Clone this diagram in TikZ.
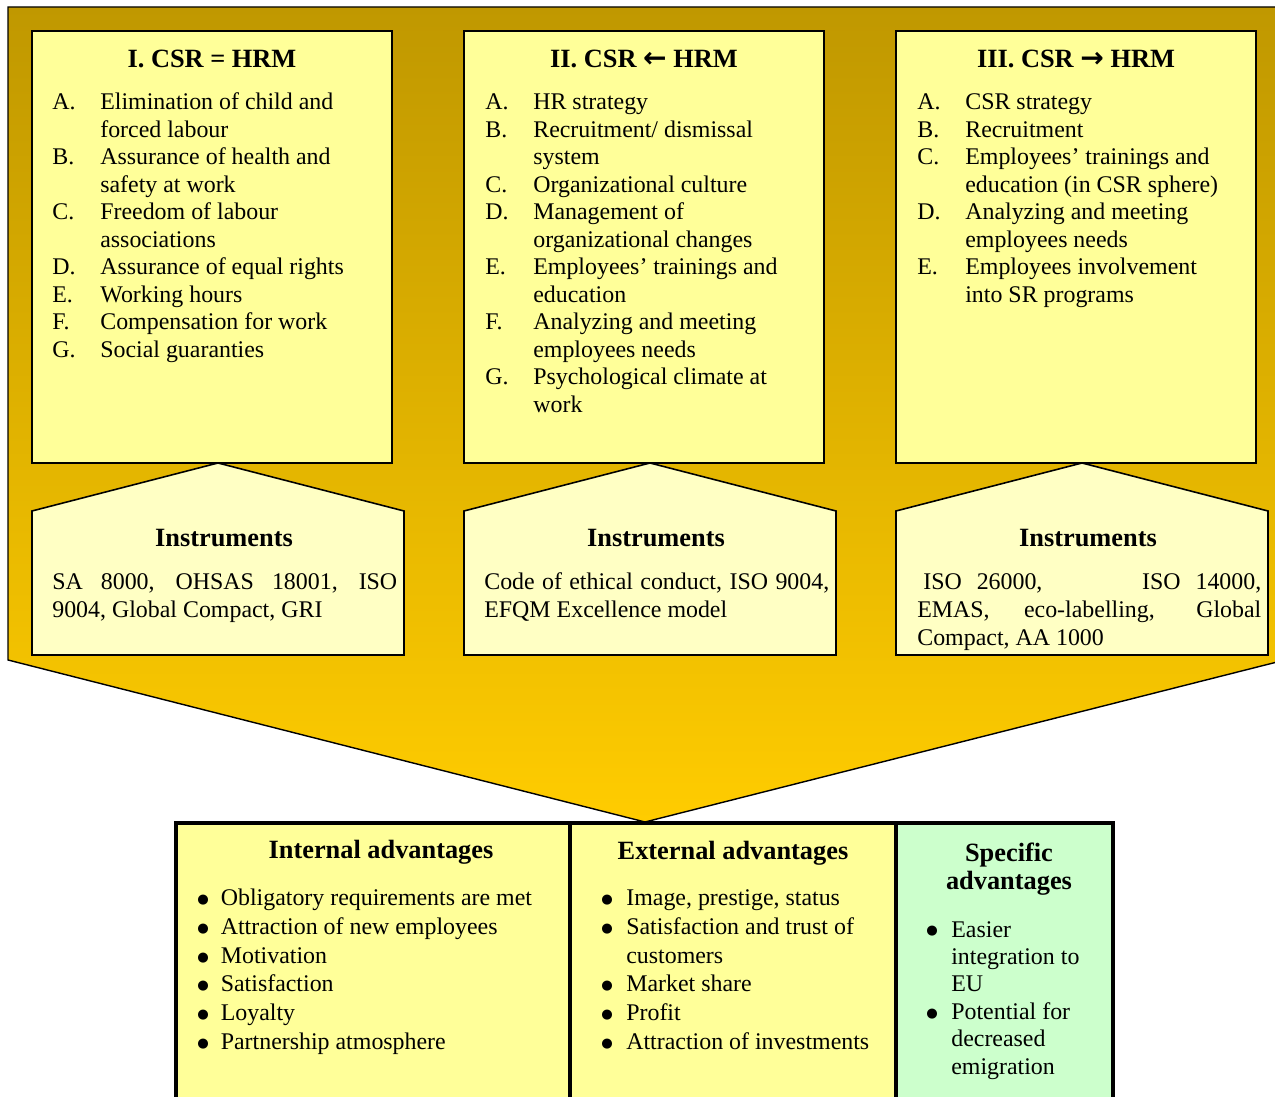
\documentclass[tikz,border=0pt]{standalone}
\usepackage{fontspec}
\setmainfont{Liberation Serif}
\newfontfamily\arrowfont{DejaVu Sans}
\usetikzlibrary{calc}
\definecolor{goldtop}{HTML}{C09800}
\definecolor{goldbottom}{HTML}{FFCC00}
\definecolor{paleyellow}{HTML}{FFFF99}
\definecolor{creamyellow}{HTML}{FFFFC4}
\definecolor{palegreen}{HTML}{CCFFCC}
\newcommand{\blob}{\raisebox{1.2pt}{\arrowfont\fontsize{7.5}{7.5}\selectfont ●}}

\begin{document}
\begin{tikzpicture}[x=0.02cm, y=-0.02cm,
  panel/.style={draw=black, line width=0.9pt, fill=paleyellow},
  instr/.style={draw=black, line width=0.9pt, fill=creamyellow},
  advbox/.style={draw=black, line width=1.9pt, fill=paleyellow},
  head/.style={anchor=base, inner sep=0pt, font=\fontsize{15}{17}\selectfont\bfseries},
  toplist/.style={anchor=base west, inner sep=0pt, font=\fontsize{13.6}{15.65}\selectfont},
  instext/.style={anchor=base west, inner sep=0pt, font=\fontsize{13.6}{15.9}\selectfont},
  advlist/.style={anchor=base west, inner sep=0pt, font=\fontsize{13.6}{16.3}\selectfont}
]
  \useasboundingbox (0,0) rectangle (1275,1097);
  \clip (0,0) rectangle (1275,1097);

  % Big arrow
  \draw[top color=goldtop, bottom color=goldbottom, line width=0.8pt]
    (8,7) -- (1285,7) -- (1285,660) -- (645,822) -- (8,660) -- cycle;

  % Approaches
  \draw[panel] (32,31) rectangle (392,463);
  \draw[panel] (464,31) rectangle (824,463);
  \draw[panel] (896,31) rectangle (1256,463);

  \node[head] (t1) at (212,68) {I. CSR = HRM};
  \node[head] (t2) at (644,68) {II. CSR {\arrowfont\bfseries\fontsize{16}{17}\selectfont ←} HRM};
  \node[head] (t3) at (1076,68) {III. CSR {\arrowfont\bfseries\fontsize{16}{17}\selectfont →} HRM};

  \node[toplist] (l1) at (52,110) {\begin{tabular}[t]{@{}p{0.96cm}@{}l@{}}
    A. & Elimination of child and\\
       & forced labour\\
    B. & Assurance of health and\\
       & safety at work\\
    C. & Freedom of labour\\
       & associations\\
    D. & Assurance of equal rights\\
    E. & Working hours\\
    F. & Compensation for work\\
    G. & Social guaranties
  \end{tabular}};
  \node[toplist] (l2) at (485,110) {\begin{tabular}[t]{@{}p{0.96cm}@{}l@{}}
    A. & HR strategy\\
    B. & Recruitment/ dismissal\\
       & system\\
    C. & Organizational culture\\
    D. & Management of\\
       & organizational changes\\
    E. & Employees’ trainings and\\
       & education\\
    F. & Analyzing and meeting\\
       & employees needs\\
    G. & Psychological climate at\\
       & work
  \end{tabular}};
  \node[toplist] (l3) at (917,110) {\begin{tabular}[t]{@{}p{0.96cm}@{}l@{}}
    A. & CSR strategy\\
    B. & Recruitment\\
    C. & Employees’ trainings and\\
       & education (in CSR sphere)\\
    D. & Analyzing and meeting\\
       & employees needs\\
    E. & Employees involvement\\
       & into SR programs
  \end{tabular}};

  % Instruments
  \draw[instr] (32,655) -- (32,511) -- (218,463) -- (404,511) -- (404,655) -- cycle;
  \draw[instr] (464,655) -- (464,511) -- (650,463) -- (836,511) -- (836,655) -- cycle;
  \draw[instr] (896,655) -- (896,511) -- (1082,463) -- (1268,511) -- (1268,655) -- cycle;

  \node[head] (ih1) at (224,547) {Instruments};
  \node[head] (ih2) at (656,547) {Instruments};
  \node[head] (ih3) at (1088,547) {Instruments};

  \node[instext] (it1) at (52,590) {\begin{tabular}[t]{@{}l@{}}
    \makebox[6.9cm][s]{SA 8000, OHSAS 18001, ISO}\\
    9004, Global Compact, GRI
  \end{tabular}};
  \node[instext] (it2) at (484,590) {\begin{tabular}[t]{@{}l@{}}
    \makebox[6.9cm][s]{Code of ethical conduct, ISO 9004,}\\
    EFQM Excellence model
  \end{tabular}};
  \node[instext] (it3) at (917,590) {\begin{tabular}[t]{@{}l@{}}
    \makebox[6.88cm][l]{\ ISO\hspace{8.5pt}26000,\hfill ISO\hspace{8.5pt}14000,}\\
    \makebox[6.88cm][s]{EMAS, eco-labelling, Global}\\
    Compact, AA 1000
  \end{tabular}};

  % Advantages
  \draw[advbox] (176,823) rectangle (570,1115);
  \draw[advbox] (570,823) rectangle (896,1115);
  \draw[advbox, fill=palegreen] (896,823) rectangle (1113,1115);

  \node[head] (inth) at (381,859) {Internal advantages};
  \node[head] (exth) at (733,860) {External advantages};
  \node[head, font=\fontsize{15}{15.5}\selectfont\bfseries] (spech) at (1009,862)
    {\begin{tabular}[t]{@{}c@{}}Specific\\advantages\end{tabular}};

  \node[advlist] (intl) at (197,906) {\begin{tabular}[t]{@{}p{0.47cm}@{}l@{}}
    \blob & Obligatory requirements are met\\
    \blob & Attraction of new employees\\
    \blob & Motivation\\
    \blob & Satisfaction\\
    \blob & Loyalty\\
    \blob & Partnership atmosphere
  \end{tabular}};
  \node[advlist] (extl) at (601,906) {\begin{tabular}[t]{@{}p{0.5cm}@{}l@{}}
    \blob & Image, prestige, status\\
    \blob & Satisfaction and trust of\\
          & customers\\
    \blob & Market share\\
    \blob & Profit\\
    \blob & Attraction of investments
  \end{tabular}};
  \node[toplist] (specl) at (926,937) {\begin{tabular}[t]{@{}p{0.5cm}@{}l@{}}
    \blob & Easier\\
          & integration to\\
          & EU\\
    \blob & Potential for\\
          & decreased\\
          & emigration
  \end{tabular}};
\end{tikzpicture}
\end{document}
